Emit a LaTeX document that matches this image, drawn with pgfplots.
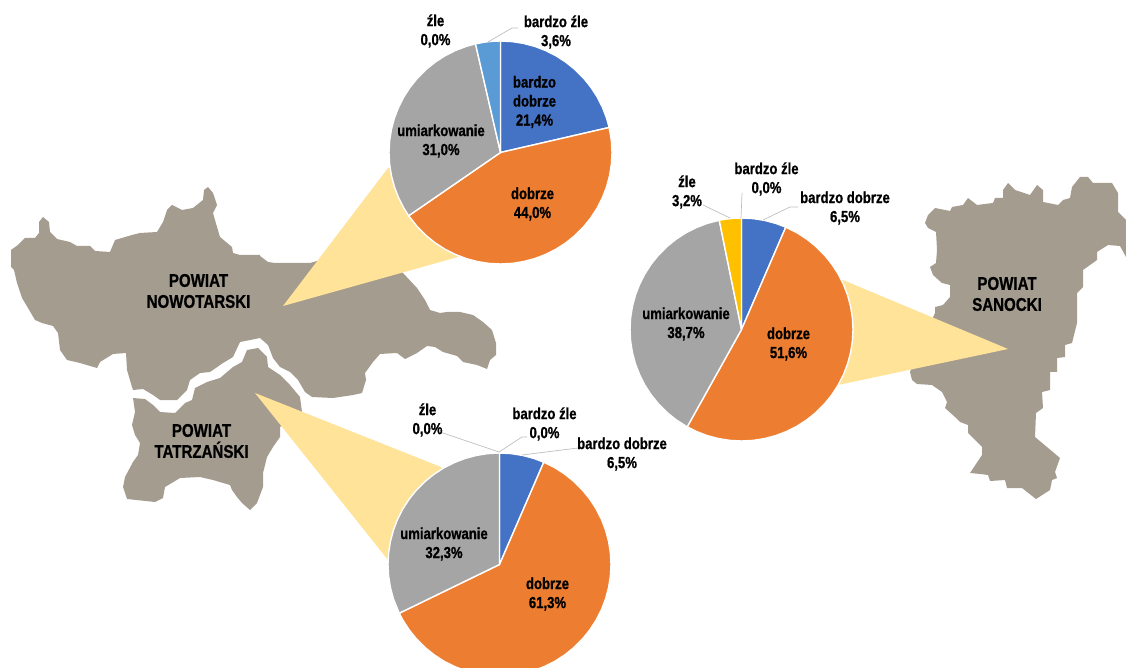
\documentclass[border=0pt]{standalone}
\usepackage{pgfplots}
\pgfplotsset{compat=1.18}
\usepackage{fontspec}
\setmainfont[FakeStretch=0.82,BoldFont={Liberation Sans Bold},BoldFeatures={FakeStretch=0.82,FakeBold=0.8}]{Liberation Sans}
\definecolor{mapc}{HTML}{A59C90}
\definecolor{yel}{HTML}{FFE399}
\definecolor{pblue}{HTML}{4472C4}
\definecolor{porange}{HTML}{ED7D31}
\definecolor{pgray}{HTML}{A5A5A5}
\definecolor{plblue}{HTML}{5B9BD5}
\definecolor{pgold}{HTML}{FFC000}
\tikzset{
  lbl/.style={font=\bfseries\fontsize{16}{19}\selectfont,align=center,text=black,inner sep=0pt},
  mlbl/.style={font=\bfseries\fontsize{18.4}{21}\selectfont,align=center,text=black,inner sep=0pt},
}
\pgfplotsset{
  pixaxis/.style={at={(0pt,0pt)},anchor=south west,scale only axis,width=1126pt,height=668pt,
    xmin=0,xmax=1126,ymin=0,ymax=668,y dir=reverse,hide axis,clip=true},
  pieaxis/.style={anchor=center,scale only axis,width=223pt,height=223pt,
    xmin=-1,xmax=1,ymin=-1,ymax=1,hide axis,clip=false},
  slice/.style={fill=#1,draw=white,line width=1.4pt,line join=round,data cs=polar,no markers},
  lead/.style={color=black!25,line width=0.7pt,no markers},
}
\begin{document}
\begin{tikzpicture}
\path[use as bounding box] (0pt,0pt) rectangle (1126pt,668pt);
\begin{axis}[pixaxis]
% Nowotarski
\addplot[fill=mapc,draw=none] coordinates {
(260,255)(240,255)(233,253)(232,247)(220,237)(217,227)(213,213)(217,205)(213,193)(208,187)(204,190)(203,200)(193,208)(182,210)(172,205)(167,210)(163,222)(157,232)(140,233)(132,235)(115,240)(110,252)(95,251)(90,246)(77,246)(70,242)(57,239)(50,232)(49,222)(43,217)(39,222)(39,233)(35,238)(25,238)(18,245)(11,250)(11,267)(14,270)(17,283)(22,298)(28,308)(35,320)(42,323)(53,326)(58,333)(60,350)(67,360)(80,363)(97,368)(100,362)(113,354)(126,353)(127,370)(132,387)(133,390)(143,389)(153,395)(160,400)(177,400)(187,390)(190,380)(200,373)(210,372)(223,363)(233,357)(240,342)(260,338)(268,345)(273,358)(280,367)(290,372)(298,380)(305,392)(312,397)(333,398)(353,395)(362,393)(366,380)(365,373)(373,362)(380,354)(397,353)(405,359)(417,353)(427,346)(435,347)(443,352)(457,356)(463,362)(477,365)(487,369)(490,360)(496,355)(496,343)(492,330)(483,322)(473,315)(460,312)(447,312)(440,313)(430,310)(425,300)(417,288)(403,273)(390,262)(317,261)(310,263)(275,263)(268,262)(260,256)} -- cycle;
% Tatrzanski
\addplot[fill=mapc,draw=none] coordinates {
(133,398)(145,399)(153,405)(160,412)(175,413)(185,403)(192,400)(195,388)(207,382)(220,378)(233,367)(242,362)(247,350)(258,348)(267,357)(268,367)(280,375)(290,385)(300,397)(302,412)(280,427)(280,437)(273,447)(267,457)(263,473)(263,487)(257,503)(250,510)(242,503)(237,497)(232,490)(230,485)(213,480)(200,477)(180,478)(165,487)(163,498)(155,502)(127,499)(123,487)(125,477)(133,462)(138,455)(140,443)(135,435)(132,425)(135,412)} -- cycle;
% Sanocki
\addplot[fill=mapc,draw=none] coordinates {
(925,223)(928,228)(936,232)(937,250)(936,263)(930,267)(933,275)(942,283)(950,285)(950,297)(943,305)(935,307)(935,313)(925,335)(910,372)(912,380)(917,384)(932,385)(942,392)(947,402)(945,408)(955,417)(960,422)(968,425)(968,433)(982,447)(982,455)(970,473)(980,474)(988,475)(990,481)(1005,480)(1007,488)(1022,488)(1036,499)(1050,490)(1052,480)(1057,478)(1055,472)(1060,458)(1035,437)(1036,413)(1043,408)(1042,392)(1050,390)(1050,372)(1057,372)(1057,358)(1065,357)(1065,345)(1072,343)(1077,323)(1077,293)(1083,287)(1083,270)(1097,260)(1097,252)(1108,245)(1120,246)(1126,257)(1126,220)(1118,212)(1118,193)(1112,183)(1093,183)(1088,177)(1080,177)(1072,187)(1070,198)(1063,200)(1058,205)(1043,202)(1043,190)(1037,185)(1030,195)(1015,190)(1008,183)(1003,190)(1003,198)(995,198)(993,203)(977,205)(968,198)(963,205)(952,207)(950,211)(935,208)(928,215)} -- cycle;
% wedges leading to the pies
\addplot[fill=yel,draw=none] coordinates {(283,306)(388,168)(500,152)(458,257)} -- cycle;
\addplot[fill=yel,draw=none] coordinates {(255,393)(441,467)(499,564)(388,560)} -- cycle;
\addplot[fill=yel,draw=none] coordinates {(1008,349)(843,280)(741,329)(838,385)} -- cycle;
\node[mlbl] at (axis cs:198.5,291) {POWIAT\\NOWOTARSKI};
\node[mlbl] at (axis cs:201.5,441) {POWIAT\\TATRZAŃSKI};
\node[mlbl] at (axis cs:1007,294) {POWIAT\\SANOCKI};
\end{axis}
% pie 1: 21,4 44,0 31,0 0,0 3,6
\begin{axis}[pieaxis,at={(500.5pt,515.5pt)}]
\addplot[slice=pblue] coordinates {(0,0)(90,1)(84,1)(78,1)(72,1)(66,1)(60,1)(54,1)(48,1)(42,1)(36,1)(30,1)(24,1)(18,1)(12.96,1)} -- cycle;
\addplot[slice=porange] coordinates {(0,0)(12.96,1)(6,1)(0,1)(-6,1)(-12,1)(-18,1)(-24,1)(-30,1)(-36,1)(-42,1)(-48,1)(-54,1)(-60,1)(-66,1)(-72,1)(-78,1)(-84,1)(-90,1)(-96,1)(-102,1)(-108,1)(-114,1)(-120,1)(-126,1)(-132,1)(-138,1)(-145.44,1)} -- cycle;
\addplot[slice=pgray] coordinates {(0,0)(-145.44,1)(-150,1)(-156,1)(-162,1)(-168,1)(-174,1)(-180,1)(-186,1)(-192,1)(-198,1)(-204,1)(-210,1)(-216,1)(-222,1)(-228,1)(-234,1)(-240,1)(-246,1)(-252,1)(-257.04,1)} -- cycle;
\addplot[slice=plblue] coordinates {(0,0)(102.96,1)(98,1)(94,1)(90,1)} -- cycle;
\end{axis}
% pie 2: 6,5 51,6 38,7 3,2 0,0
\begin{axis}[pieaxis,at={(741.5pt,338.5pt)}]
\addplot[slice=pblue] coordinates {(0,0)(90,1)(84,1)(78,1)(72,1)(66.6,1)} -- cycle;
\addplot[slice=porange] coordinates {(0,0)(66.6,1)(60,1)(54,1)(48,1)(42,1)(36,1)(30,1)(24,1)(18,1)(12,1)(6,1)(0,1)(-6,1)(-12,1)(-18,1)(-24,1)(-30,1)(-36,1)(-42,1)(-48,1)(-54,1)(-60,1)(-66,1)(-72,1)(-78,1)(-84,1)(-90,1)(-96,1)(-102,1)(-108,1)(-114,1)(-119.16,1)} -- cycle;
\addplot[slice=pgray] coordinates {(0,0)(-119.16,1)(-126,1)(-132,1)(-138,1)(-144,1)(-150,1)(-156,1)(-162,1)(-168,1)(-174,1)(-180,1)(-186,1)(-192,1)(-198,1)(-204,1)(-210,1)(-216,1)(-222,1)(-228,1)(-234,1)(-240,1)(-246,1)(-252,1)(-258.48,1)} -- cycle;
\addplot[slice=pgold] coordinates {(0,0)(101.52,1)(98,1)(94,1)(90,1)} -- cycle;
\end{axis}
% pie 3: 6,5 61,3 32,3 0,0 0,0
\begin{axis}[pieaxis,at={(499.5pt,103.5pt)}]
\addplot[slice=pblue] coordinates {(0,0)(90,1)(84,1)(78,1)(72,1)(66.6,1)} -- cycle;
\addplot[slice=porange] coordinates {(0,0)(66.6,1)(60,1)(54,1)(48,1)(42,1)(36,1)(30,1)(24,1)(18,1)(12,1)(6,1)(0,1)(-6,1)(-12,1)(-18,1)(-24,1)(-30,1)(-36,1)(-42,1)(-48,1)(-54,1)(-60,1)(-66,1)(-72,1)(-78,1)(-84,1)(-90,1)(-96,1)(-102,1)(-108,1)(-114,1)(-120,1)(-126,1)(-132,1)(-138,1)(-144,1)(-150,1)(-154.08,1)} -- cycle;
\addplot[slice=pgray] coordinates {(0,0)(-154.08,1)(-162,1)(-168,1)(-174,1)(-180,1)(-186,1)(-192,1)(-198,1)(-204,1)(-210,1)(-216,1)(-222,1)(-228,1)(-234,1)(-240,1)(-246,1)(-252,1)(-258,1)(-264,1)(-270,1)} -- cycle;
\end{axis}
% labels
\begin{axis}[pixaxis]
\addplot[lead] coordinates {(488,42)(512,28)(518,28)};
\addplot[lead] coordinates {(703,205)(730,218)};
\addplot[lead] coordinates {(741,218)(742,193)};
\addplot[lead] coordinates {(763,220)(790,207)(798,207)};
\addplot[lead] coordinates {(499,452)(440,432)};
\addplot[lead] coordinates {(499,452)(522,437)(527,437)};
\addplot[lead] coordinates {(522,455)(578,448)};
\node[lbl] at (axis cs:534.5,102) {bardzo\\dobrze\\21,4\%};
\node[lbl] at (axis cs:532.5,204) {dobrze\\44,0\%};
\node[lbl] at (axis cs:441,141) {umiarkowanie\\31,0\%};
\node[lbl] at (axis cs:435.5,31) {źle\\0,0\%};
\node[lbl] at (axis cs:556,32) {bardzo źle\\3,6\%};
\node[lbl] at (axis cs:766.5,179) {bardzo źle\\0,0\%};
\node[lbl] at (axis cs:687,192) {źle\\3,2\%};
\node[lbl] at (axis cs:845,208) {bardzo dobrze\\6,5\%};
\node[lbl] at (axis cs:788.5,344) {dobrze\\51,6\%};
\node[lbl] at (axis cs:686,324) {umiarkowanie\\38,7\%};
\node[lbl] at (axis cs:427.5,420) {źle\\0,0\%};
\node[lbl] at (axis cs:544.5,424) {bardzo źle\\0,0\%};
\node[lbl] at (axis cs:622,454) {bardzo dobrze\\6,5\%};
\node[lbl] at (axis cs:547.5,594) {dobrze\\61,3\%};
\node[lbl] at (axis cs:444,544) {umiarkowanie\\32,3\%};
\end{axis}
\end{tikzpicture}
\end{document}
